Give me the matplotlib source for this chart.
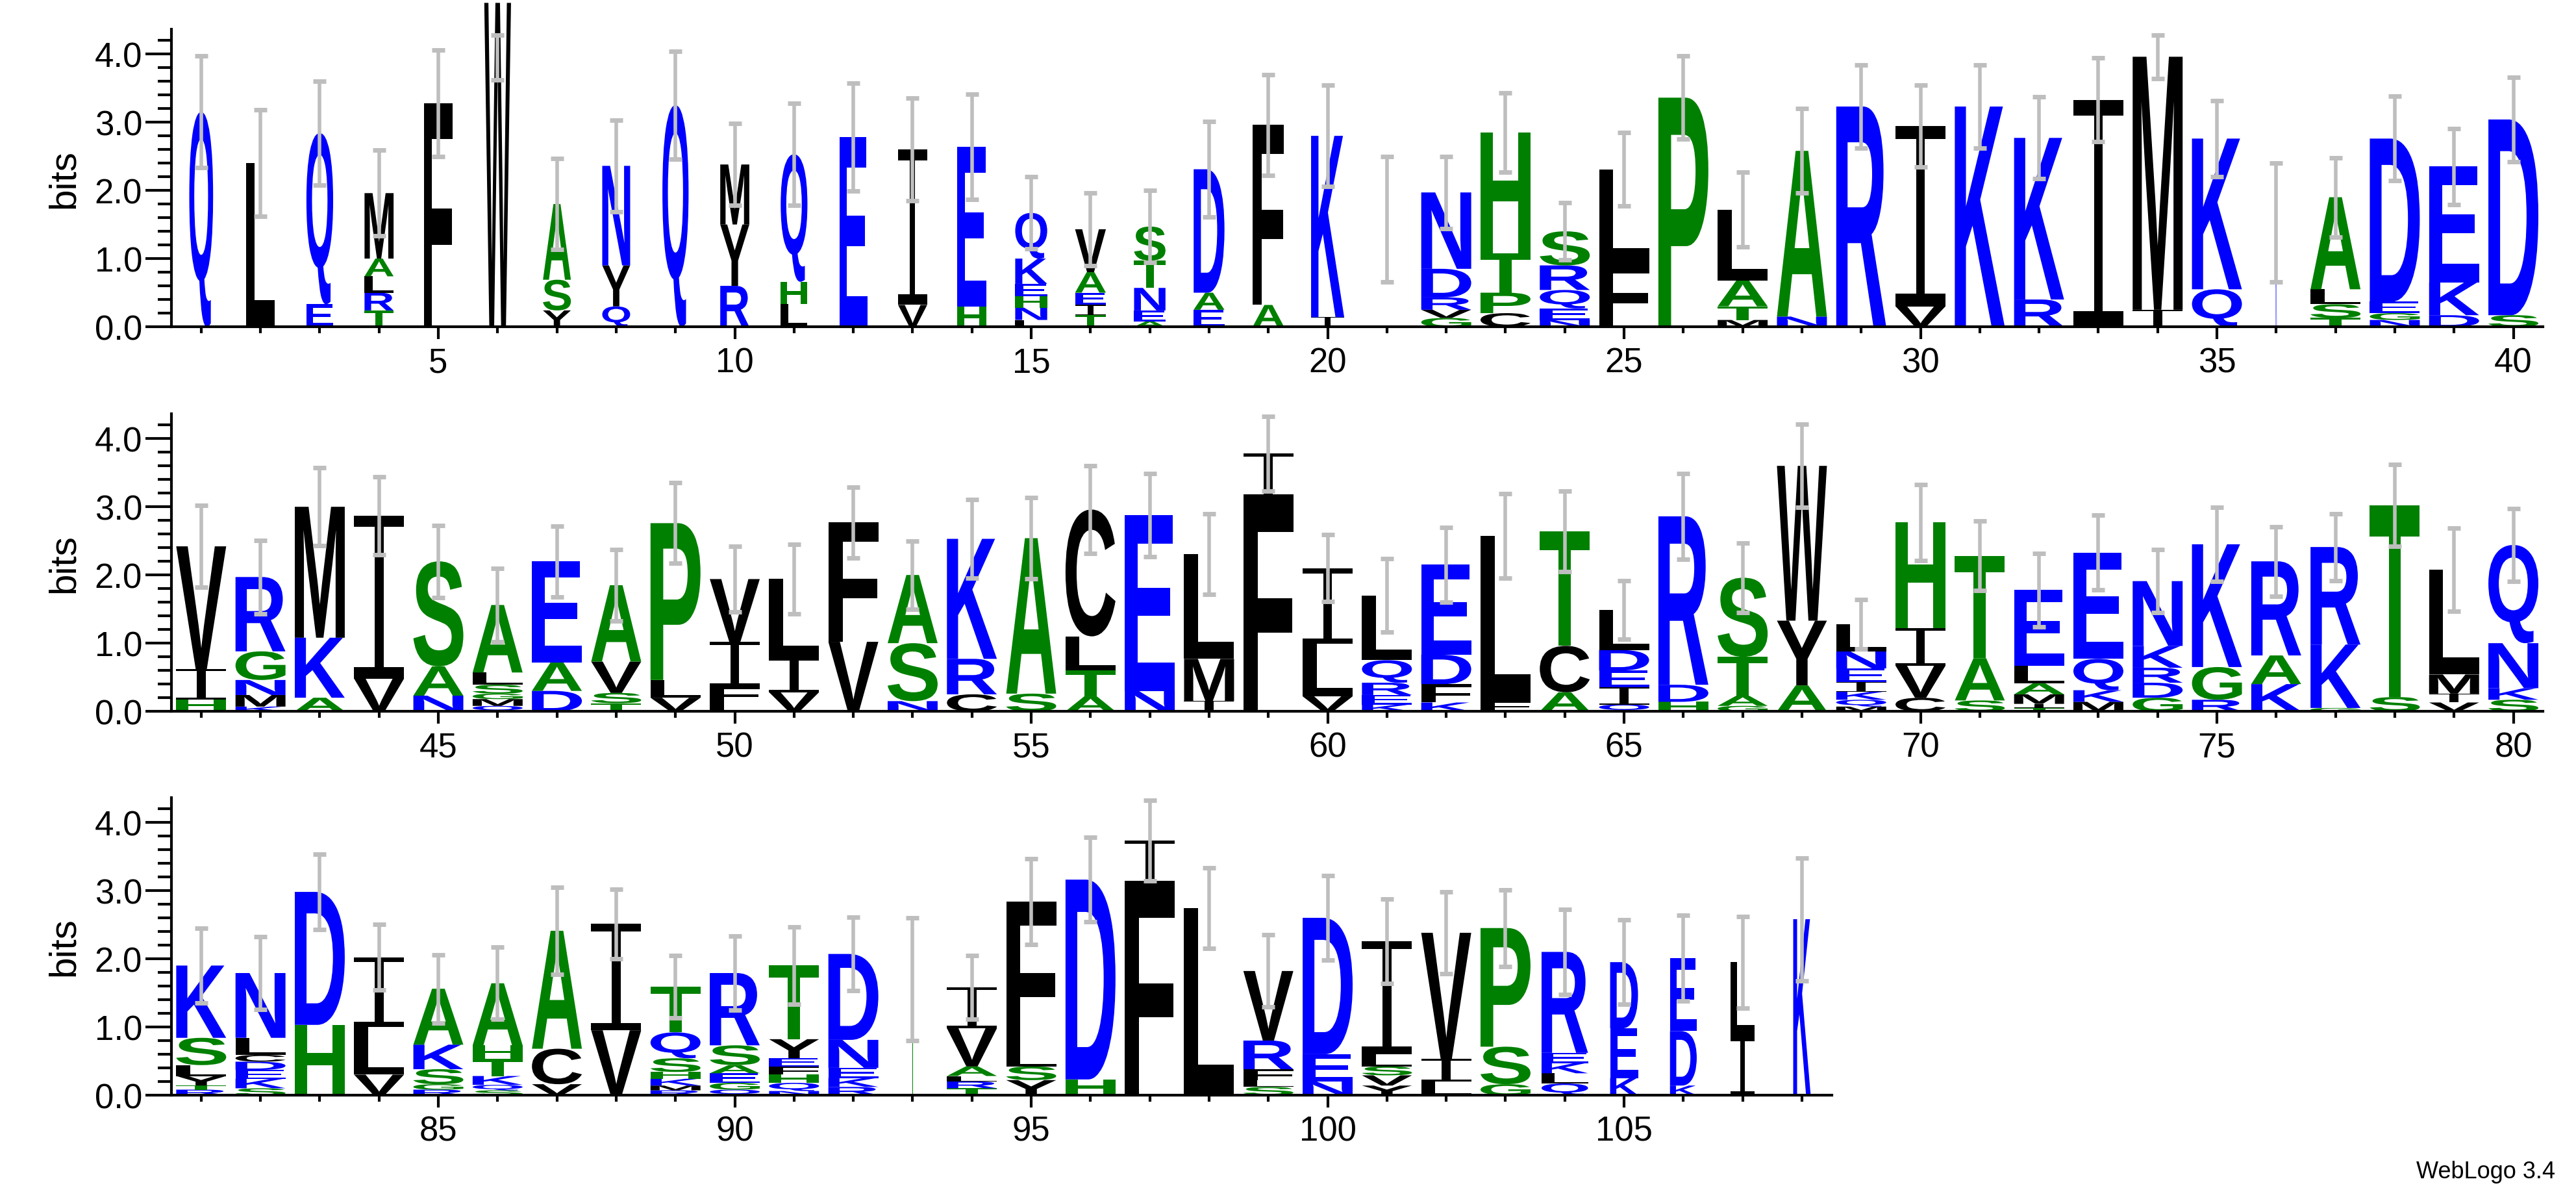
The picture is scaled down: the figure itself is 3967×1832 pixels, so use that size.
"""Sequence logo (WebLogo 3.4 style) redrawn with matplotlib."""

import matplotlib
matplotlib.use("Agg")
import matplotlib.pyplot as plt
from matplotlib.font_manager import FontProperties
from matplotlib.patches import PathPatch
from matplotlib.path import Path
from matplotlib.textpath import TextPath
from matplotlib.transforms import Affine2D
from matplotlib.ticker import MultipleLocator, FormatStrFormatter

# letters per column, bottom -> top, with their heights in bits
letters = [
    "Q", "L", "EQ", "TRLAM", "F", "W", "YSA", "QYN", "Q", "RYM",
    "LHQ", "E", "VI", "HE", "LNHEKQ", "TIEAV", "AENTS", "EAD", "AF", "IK",
    "T", "GVRDN", "CPTH", "NEQRS", "FL", "P", "MTAL", "NA", "R", "VI",
    "K", "RK", "I", "IM", "QK", "K", "TSLA", "NGED", "DKE", "SD",
    "HIV", "KMNGR", "AKM", "VI", "NAS", "QMGSLA", "DAE", "TSVA", "VLP", "LFIV",
    "VIL", "VF", "NSA", "CRK", "SA", "ATLC", "NE", "IML", "FI", "VLI",
    "KERQL", "KFDE", "FL", "ACT", "QIEDL", "HDR", "GATS", "AYW", "MQKIENL", "CVIH",
    "SAT", "TIMALE", "MKQE", "GDRKN", "RGK", "KAR", "GKR", "ST", "VIML", "SKNQ",
    "RTYLSK", "SKEDCLN", "HD", "VLI", "RGSKA", "SQKTHA", "VCA", "VI", "RMKHSQT", "QGEASR",
    "NQHFEYT", "RKEND", "T", "TRLAVI", "YSLF", "HD", "FI", "L", "SLFRV", "NED",
    "YVSLI", "LIV", "GSP", "QLKER", "KED", "KDE", "IL", "K",
]
heights = [
    [3.15], [2.4], [0.33, 2.51], [0.24, 0.26, 0.24, 0.26, 0.96], [3.28],
    [4.75], [0.24, 0.45, 1.11], [0.3, 0.6, 1.46], [3.25], [0.6, 0.9, 0.88],
    [0.33, 0.33, 1.87], [2.78], [0.32, 2.28], [0.3, 2.34],
    [0.1, 0.18, 0.17, 0.18, 0.37, 0.67], [0.17, 0.15, 0.18, 0.3, 0.63],
    [0.08, 0.16, 0.33, 0.4, 0.5], [0.25, 0.25, 1.81], [0.32, 2.64], [0.14, 2.66],
    [1.58], [0.13, 0.12, 0.18, 0.42, 1.12], [0.2, 0.3, 0.58, 1.77],
    [0.1, 0.17, 0.27, 0.36, 0.5], [0.93, 1.38], [3.36], [0.1, 0.2, 0.38, 1.04],
    [0.15, 2.43], [3.23], [0.3, 2.64],
    [3.23], [0.4, 2.37], [3.33], [0.25, 3.71], [0.55, 2.21], [1.53],
    [0.13, 0.2, 0.22, 1.35], [0.1, 0.1, 0.17, 2.39], [0.17, 0.48, 1.7], [0.17, 2.87],
    [0.17, 0.45, 1.8], [0.07, 0.17, 0.22, 0.42, 1.09], [0.2, 0.88, 1.92],
    [0.48, 2.39], [0.23, 0.43, 1.54], [0.08, 0.1, 0.08, 0.13, 0.18, 0.99],
    [0.3, 0.42, 1.48], [0.12, 0.15, 0.46, 1.12], [0.2, 0.26, 2.3],
    [0.12, 0.25, 0.65, 0.92],
    [0.28, 0.5, 1.16], [1.02, 1.75], [0.15, 0.85, 1.0], [0.25, 0.52, 1.76],
    [0.26, 2.28], [0.22, 0.38, 0.5, 1.86], [0.3, 2.58], [0.15, 0.62, 1.54],
    [3.14, 0.64], [0.22, 0.77, 1.11],
    [0.1, 0.14, 0.18, 0.33, 0.95], [0.13, 0.27, 0.43, 1.32], [0.15, 2.42],
    [0.28, 0.68, 1.68], [0.1, 0.25, 0.25, 0.3, 0.59], [0.14, 0.25, 2.47],
    [0.08, 0.15, 0.57, 1.16], [0.38, 0.95, 2.27],
    [0.07, 0.1, 0.12, 0.14, 0.2, 0.25, 0.4], [0.2, 0.47, 0.55, 1.55],
    [0.16, 0.62, 1.5], [0.05, 0.06, 0.14, 0.16, 0.26, 1.11],
    [0.14, 0.17, 0.46, 1.56], [0.2, 0.22, 0.22, 0.32, 0.95], [0.17, 0.48, 1.8],
    [0.4, 0.42, 1.38], [0.05, 0.93, 1.43], [0.21, 2.81], [0.13, 0.13, 0.28, 1.54],
    [0.17, 0.17, 0.66, 1.44],
    [0.08, 0.06, 0.14, 0.16, 0.4, 1.06], [0.1, 0.14, 0.13, 0.12, 0.1, 0.25, 0.95],
    [1.03, 1.95], [0.3, 0.7, 1.02], [0.08, 0.08, 0.22, 0.36, 0.82],
    [0.07, 0.08, 0.13, 0.25, 0.2, 0.91], [0.16, 0.52, 1.73], [0.95, 1.56],
    [0.07, 0.07, 0.1, 0.1, 0.2, 0.38, 0.67], [0.08, 0.1, 0.14, 0.12, 0.29, 1.06],
    [0.06, 0.12, 0.12, 0.12, 0.12, 0.28, 1.08], [0.12, 0.13, 0.15, 0.41, 1.26],
    [1.7], [0.1, 0.1, 0.08, 0.14, 0.56, 0.6], [0.22, 0.2, 0.2, 2.22],
    [0.23, 2.93], [3.1, 0.63], [2.74], [0.12, 0.1, 0.16, 0.42, 1.02],
    [0.2, 0.4, 2.0],
    [0.14, 0.15, 0.13, 0.18, 1.66], [0.2, 0.33, 1.85], [0.16, 0.55, 1.74],
    [0.17, 0.15, 0.15, 0.15, 1.48], [0.25, 0.73, 0.97], [0.14, 0.8, 1.07],
    [0.85, 1.1], [2.58],
]
# half-length of the small-sample error bar at each column
errors = [
    0.82, 0.78, 0.76, 0.63, 0.78, 0.33, 0.67, 0.67, 0.79, 0.6,
    0.75, 0.79, 0.75, 0.77, 0.53, 0.53, 0.53, 0.7, 0.74, 0.74,
    0.92, 0.53, 0.58, 0.42, 0.54, 0.61, 0.55, 0.62, 0.61, 0.6,
    0.61, 0.6, 0.61, 0.32, 0.56, 0.87, 0.58, 0.62, 0.56, 0.62,
    0.6, 0.54, 0.57, 0.57, 0.53, 0.54, 0.52, 0.52, 0.59, 0.48,
    0.51, 0.52, 0.5, 0.58, 0.6, 0.64, 0.61, 0.59, 0.55, 0.49,
    0.54, 0.55, 0.62, 0.59, 0.43, 0.63, 0.51, 0.61, 0.36, 0.56,
    0.51, 0.54, 0.55, 0.46, 0.54, 0.51, 0.49, 0.6, 0.61, 0.53,
    0.55, 0.53, 0.55, 0.48, 0.5, 0.53, 0.64, 0.51, 0.46, 0.54,
    0.57, 0.54, 0.9, 0.47, 0.63, 0.62, 0.59, 0.59, 0.53, 0.62,
    0.62, 0.6, 0.56, 0.62, 0.62, 0.63, 0.67, 0.9,
]
err_center_override = {6: 3.95}
# column width (fraction of non-gap sequences)
widths = ([0.41, 0.49, 0.46, 0.5, 0.5, 0.46, 0.48, 0.48, 0.45, 0.5, 0.46, 0.48, 0.5, 0.5]
          + [0.55, 0.53, 0.54, 0.53, 0.54, 0.57] + [0.03] + [0.86] * 14 + [0.02]
          + [0.86] * 56 + [0.02] + [0.86] * 10 + [0.8, 0.48, 0.46, 0.42, 0.3])

rows = [(1, 40), (41, 80), (81, 108)]

BLUE, GREEN, BLACK = "#0000FF", "#008000", "#000000"
COLORS = {c: BLUE for c in "QNEKRD"}
COLORS.update({c: GREEN for c in "STAPGH"})
COLORS.update({c: BLACK for c in "LIVMFWYC"})

FONT = FontProperties(family="Liberation Sans", weight="bold")
GLYPHS = {}


def serif_i():
    # WebLogo's I: thin stem between two full-width bars
    s, c = 0.09, 0.07
    pts = [(0, 0), (1, 0), (1, c), (0.5 + s, c), (0.5 + s, 1 - c), (1, 1 - c),
           (1, 1), (0, 1), (0, 1 - c), (0.5 - s, 1 - c), (0.5 - s, c), (0, c), (0, 0)]
    return Path(pts, closed=True)


def glyph(ch):
    if ch not in GLYPHS:
        p = serif_i() if ch == "I" else TextPath((0, 0), ch, size=1, prop=FONT)
        GLYPHS[ch] = (p, p.get_extents())
    return GLYPHS[ch]


def draw_letter(ax, ch, x, y0, w, h):
    path, bb = glyph(ch)
    tr = (Affine2D().translate(-bb.x0, -bb.y0)
          .scale(w / bb.width, h / bb.height).translate(x - w / 2, y0))
    ax.add_patch(PathPatch(tr.transform_path(path), facecolor=COLORS[ch],
                           edgecolor="none", clip_on=False, zorder=2))


fig = plt.figure(figsize=(39.67, 18.33), dpi=100)
bottoms = [0.725, 0.402, 0.0797]
unit = 91.3 / 3967
for (lo, hi), bot in zip(rows, bottoms):
    ax = fig.add_axes([0.0666, bot, unit * (hi - lo + 1), 0.2497])
    ax.set_xlim(lo - 0.5, hi + 0.5)
    ax.set_ylim(0, 4.36)
    for pos in range(lo, hi + 1):
        i = pos - 1
        w = widths[i] * 0.98
        y = 0.0
        for ch, h in zip(letters[i], heights[i]):
            draw_letter(ax, ch, pos, y, w, h)
            y += h
        c = err_center_override.get(pos, y)
        e = errors[i]
        ax.vlines(pos, c - e, c + e, color="#BEBEBE", lw=4, zorder=3)
        ax.hlines([c - e, c + e], pos - 0.11, pos + 0.11, color="#BEBEBE", lw=5, zorder=3)

    for s in ("top", "right"):
        ax.spines[s].set_visible(False)
    for s in ("left", "bottom"):
        ax.spines[s].set_linewidth(3)
    ax.yaxis.set_major_locator(MultipleLocator(1.0))
    ax.yaxis.set_minor_locator(MultipleLocator(0.2))
    ax.yaxis.set_major_formatter(FormatStrFormatter("%.1f"))
    ax.xaxis.set_major_locator(MultipleLocator(5))
    ax.xaxis.set_minor_locator(MultipleLocator(1))
    ax.tick_params(axis="y", which="major", length=29, width=3, labelsize=38)
    ax.tick_params(axis="y", which="minor", length=15, width=3)
    ax.tick_params(axis="x", which="major", length=14, width=3, labelsize=38, pad=8)
    ax.tick_params(axis="x", which="minor", length=7, width=3)
    for lab in ax.get_xticklabels() + ax.get_yticklabels():
        lab.set_family("Liberation Sans")
    ax.set_ylabel("bits", fontsize=42, family="Liberation Sans", labelpad=14)

fig.text(0.992, 0.006, "WebLogo 3.4", ha="right", va="bottom", fontsize=26,
         family="Liberation Sans")
fig.savefig("out.png", dpi=100)
